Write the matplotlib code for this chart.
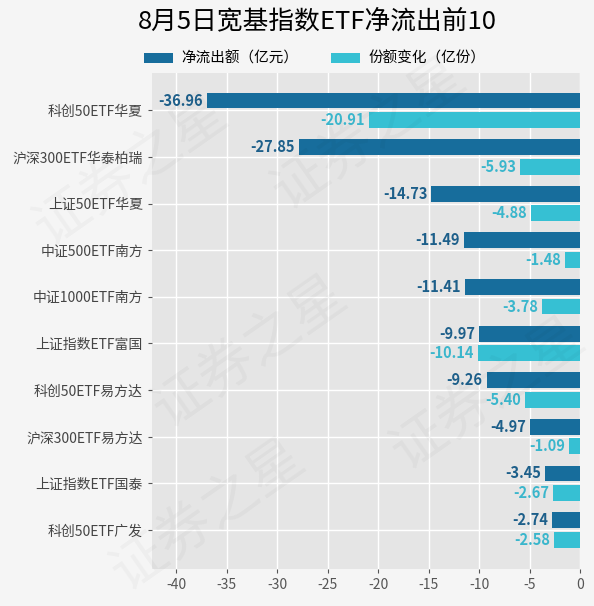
import matplotlib
matplotlib.use('Agg')
import matplotlib.pyplot as plt
import numpy as np

plt.rcParams['font.family'] = ['Noto Sans CJK SC', 'DejaVu Sans']
plt.rcParams['axes.unicode_minus'] = False

# data
funds = ['科创50ETF华夏', '沪深300ETF华泰柏瑞', '上证50ETF华夏', '中证500ETF南方',
         '中证1000ETF南方', '上证指数ETF富国', '科创50ETF易方达', '沪深300ETF易方达',
         '上证指数ETF国泰', '科创50ETF广发']
net_outflow = [-36.96, -27.85, -14.73, -11.49, -11.41, -9.97, -9.26, -4.97, -3.45, -2.74]
share_change = [-20.91, -5.93, -4.88, -1.48, -3.78, -10.14, -5.40, -1.09, -2.67, -2.58]
x_ticks = [-40, -35, -30, -25, -20, -15, -10, -5, 0]

dark = '#176d9c'
cyan = '#36c0d3'

fig = plt.figure(figsize=(5.94, 6.06), dpi=100, facecolor='#f5f5f5')
ax = fig.add_axes([152/594, 1 - 569/606, (580-152)/594, (569-73)/606])
ax.set_facecolor('#e5e5e5')

y = np.arange(len(funds))
h = 0.34
off = 0.21
b1 = ax.barh(y - off, net_outflow, height=h, color=dark, label='净流出额（亿元）', zorder=3)
b2 = ax.barh(y + off, share_change, height=h, color=cyan, label='份额变化（亿份）', zorder=3)

# value labels left of each bar
for v, yy in zip(net_outflow, y - off):
    ax.text(v - 0.4, yy, '%.2f' % v, ha='right', va='center', fontsize=10.5,
            fontweight='bold', color='#1d5f8a', zorder=4)
for v, yy in zip(share_change, y + off):
    ax.text(v - 0.4, yy, '%.2f' % v, ha='right', va='center', fontsize=10.5,
            fontweight='bold', color='#3ab6cc', zorder=4)

ax.set_yticks(y)
ax.set_yticklabels(funds, fontsize=10, color='#444444')
ax.set_xticks(x_ticks)
ax.set_xticklabels([str(t) for t in x_ticks], fontsize=10, color='#555555')
ax.set_xlim(-42.4, 0)
ax.set_ylim(len(funds) - 1 + 0.84, -0.8)
ax.grid(True, color='white', linewidth=1, zorder=0)
for s in ax.spines.values():
    s.set_visible(False)
ax.tick_params(axis='both', length=3, color='#555555')

# watermark
for (wx, wy) in [(0.22, 0.72), (0.62, 0.78), (0.42, 0.42), (0.82, 0.35), (0.35, 0.15)]:
    fig.text(wx, wy, '证券之星', fontsize=40, color='#000000', alpha=0.03,
             rotation=35, ha='center', va='center')

fig.suptitle('8月5日宽基指数ETF净流出前10', fontsize=18.5, y=0.987, x=0.535)
fig.legend(handles=[b1, b2], loc='center', bbox_to_anchor=(0.53, 0.903), ncol=2,
           frameon=False, fontsize=10.5, handlelength=2.0, handleheight=0.7,
           handletextpad=0.6, columnspacing=2.2)

fig.savefig('out.png', dpi=100, facecolor=fig.get_facecolor())
